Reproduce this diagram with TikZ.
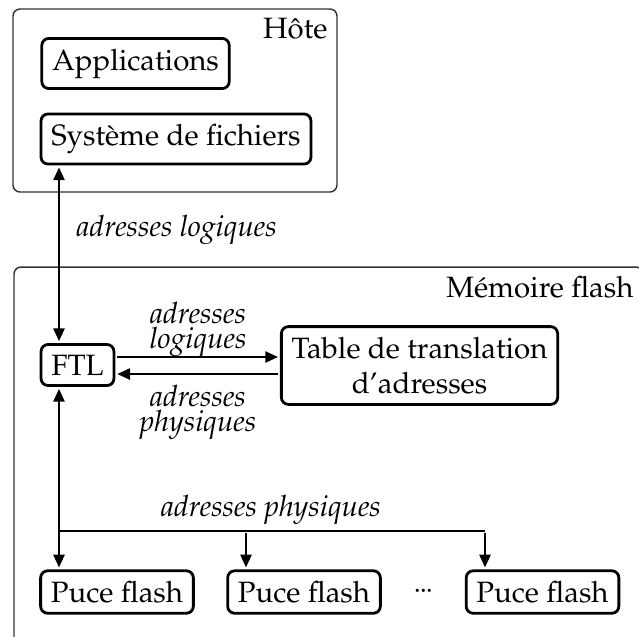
\documentclass[tikz,border=0pt]{standalone}
\IfFileExists{mathpazo.sty}{%
  \usepackage[T1]{fontenc}\usepackage{mathpazo}%
  \newcommand\basefont{\fontsize{10}{12}\selectfont}%
  \newcommand\tightfont{\fontsize{10}{8.5}\selectfont}}{%
  \usepackage{fontspec}\setmainfont{Liberation Serif}%
  \newcommand\basefont{\fontsize{10.7}{12.8}\selectfont}%
  \newcommand\tightfont{\fontsize{10.7}{9}\selectfont}}
\usetikzlibrary{arrows.meta,calc}
\begin{document}
\begin{tikzpicture}[x=0.3401pt,y=-0.3401pt,
  every node/.style={font=\basefont},
  box/.style={draw, line width=0.95pt, rounded corners=2.4pt, inner sep=3.5pt},
  outerbox/.style={draw=black!80, line width=0.5pt, rounded corners=2.4pt},
  grouplabel/.style={inner sep=0pt, anchor=base east},
  lab/.style={font=\basefont\itshape, inner sep=0pt},
  labtwo/.style={font=\tightfont\itshape, inner sep=0pt, align=center},
  conn/.style={line width=0.95pt, shorten >=0.6pt, shorten <=0.6pt},
  >={Triangle[length=4.4pt,width=3.7pt]}]
\useasboundingbox (0,0) rectangle (639,636);
\begin{scope}
\clip (0,0) rectangle (639,636);
\draw[outerbox] (13,9) rectangle (337,192);
\draw[outerbox] (14,267) rectangle (643,690);
\end{scope}
\node[grouplabel] (hostlab) at (328,38) {H\^ote};
\node[grouplabel] (memlab) at (634,297) {M\'emoire flash};
\node[box] (app) at (135.5,63.5) {Applications};
\node[box] (fs) at (176,139) {Syst\`eme de fichiers};
\node[box] (ftl) at (77.5,365) {FTL};
\node[box, align=center] (table) at (419.5,365.5) {Table de translation\\d'adresses};
\node[box] (p1) at (117,592) {Puce flash};
\node[box] (p2) at (304,592) {Puce flash};
\node[box] (p3) at (542.5,592) {Puce flash};
\node[inner sep=0pt] (dots) at (423.5,592) {${\cdot}\mkern-2mu{\cdot}\mkern-2mu{\cdot}$};
\node[lab, anchor=west] (l1) at (76,230) {adresses logiques};
\node[labtwo] (l2) at (198,329) {adresses\\logiques};
\node[labtwo] (l3) at (198,412) {adresses\\physiques};
\node[lab] (l4) at (271,510) {adresses physiques};
\coordinate (j1) at (59,531);
\coordinate (j2) at (246,531);
\coordinate (j3) at (485,531);
\draw[conn,<->] (fs.south -| j1) -- (ftl.north -| j1);
\draw[conn,<->] (ftl.south -| j1) -- (p1.north -| j1);
\draw[line width=0.95pt] (j1) -- (j3);
\draw[conn,->] (j2) -- (p2.north -| j2);
\draw[conn,->] (j3) -- (p3.north -| j3);
\coordinate (t1) at ($(table.west)+(0,-8.5)$);
\coordinate (t2) at ($(table.west)+(0,8.5)$);
\draw[conn,->] (ftl.east |- t1) -- (t1);
\draw[conn,->] (t2) -- (ftl.east |- t2);
\end{tikzpicture}
\end{document}
